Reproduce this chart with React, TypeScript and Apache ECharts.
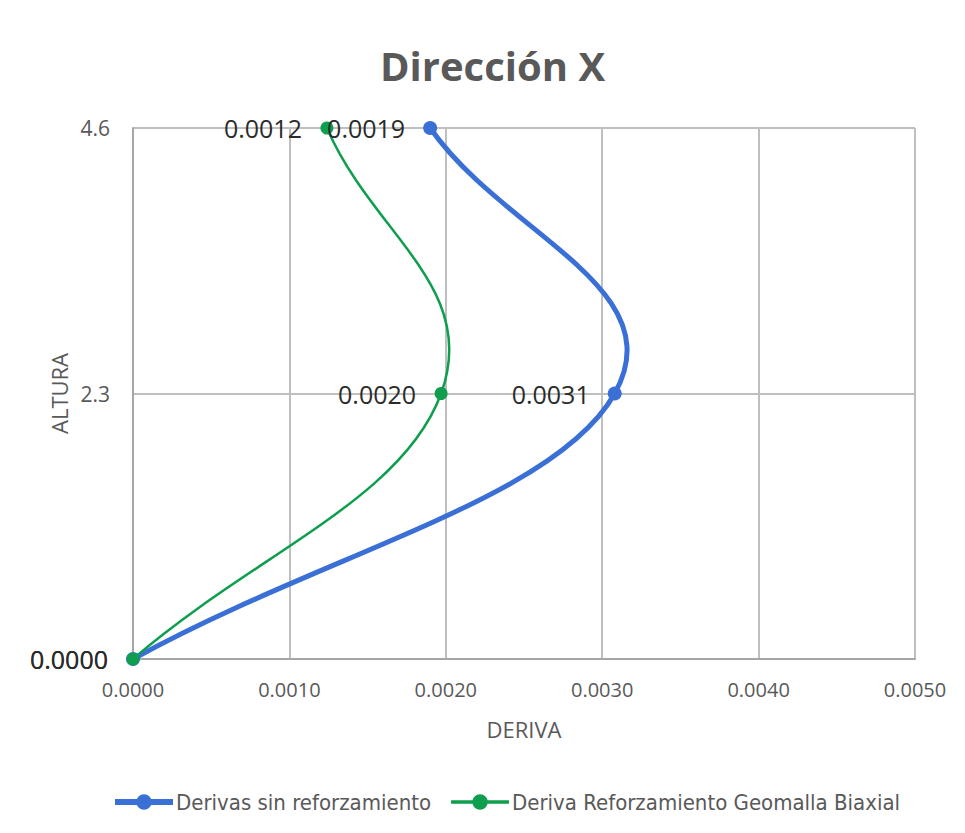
import React, { useEffect, useRef } from "react";
import * as echarts from "echarts";

const titleText = "Dirección X";
const xAxisName = "DERIVA";
const yAxisName = "ALTURA";
const seriesNames = ["Derivas sin reforzamiento", "Deriva Reforzamiento Geomalla Biaxial"];
const alturas = [0, 2.3, 4.6];
const derivasSin = [0, 0.00308, 0.0019];
const derivasGeo = [0, 0.00197, 0.00124];
const colors = ["#3A6FD6", "#0E9E4E"];

const TENSION = 0.2;

export default function App() {
  const ref = useRef<HTMLDivElement>(null);
  useEffect(() => {
    document.body.style.margin = "0";
    const chart = echarts.init(ref.current!, null, { renderer: "svg" });
    const font = "'Open Sans', 'Noto Sans', sans-serif";
    const narrow = "'Liberation Sans Narrow', 'DejaVu Sans Condensed', 'Open Sans', sans-serif";

    const curve = (id: string, xs: number[], color: string, width: number) => ({
      id,
      type: "custom",
      silent: true,
      z: 2,
      data: xs.map((x, i) => [x, alturas[i]]),
      encode: { x: 0, y: 1 },
      renderItem: (params: any, api: any) => {
        const n = xs.length;
        const i = params.dataIndex;
        if (i >= n - 1) return null;
        const c = (j: number) => {
          if (j < 0) {
            const a = api.coord([xs[0], alturas[0]]);
            const b = api.coord([xs[1], alturas[1]]);
            return [2 * a[0] - b[0], 2 * a[1] - b[1]];
          }
          if (j > n - 1) {
            const a = api.coord([xs[n - 1], alturas[n - 1]]);
            const b = api.coord([xs[n - 2], alturas[n - 2]]);
            return [2 * a[0] - b[0], 2 * a[1] - b[1]];
          }
          return api.coord([xs[j], alturas[j]]);
        };
        const p0 = c(i - 1), p1 = c(i), p2 = c(i + 1), p3 = c(i + 2);
        return {
          type: "bezierCurve",
          shape: {
            x1: p1[0], y1: p1[1],
            x2: p2[0], y2: p2[1],
            cpx1: p1[0] + TENSION * (p2[0] - p0[0]),
            cpy1: p1[1] + TENSION * (p2[1] - p0[1]),
            cpx2: p2[0] - TENSION * (p3[0] - p1[0]),
            cpy2: p2[1] - TENSION * (p3[1] - p1[1]),
          },
          style: { stroke: color, lineWidth: width, fill: null, lineCap: "round" },
        };
      },
    });

    const points = (name: string, xs: number[], color: string, size: number) => ({
      name,
      type: "line",
      z: 3,
      data: xs.map((x, i) => [x, alturas[i]]),
      symbol: "circle",
      symbolSize: size,
      itemStyle: { color },
      lineStyle: { color, width: 0, opacity: 0 },
      label: {
        show: true,
        position: "left",
        distance: 25 - size / 2,
        fontFamily: font,
        fontSize: 25,
        color: "#2b2b2b",
        formatter: (p: any) => Number(p.value[0]).toFixed(4),
      },
    });

    const iconThick = "path://M0,5H60V11H0Z M38,8A8,8,0,1,1,22,8A8,8,0,1,1,38,8Z";
    const iconThin = "path://M0,6.2H60V9.8H0Z M38,8A8,8,0,1,1,22,8A8,8,0,1,1,38,8Z";

    chart.setOption({
      animation: false,
      title: {
        text: titleText,
        left: 375,
        top: 40,
        textStyle: { fontFamily: font, fontSize: 40, fontWeight: "bold", color: "#595959" },
      },
      grid: { left: 133, right: 50, top: 128, bottom: 174 },
      legend: {
        top: 786,
        left: 110,
        itemWidth: 58,
        itemHeight: 16,
        itemGap: 20,
        textStyle: { fontFamily: narrow, fontSize: 22, color: "#595959", padding: [0, 0, 0, -2] },
        data: [
          { name: seriesNames[0], icon: iconThick },
          { name: seriesNames[1], icon: iconThin },
        ],
      },
      xAxis: {
        type: "value",
        min: 0,
        max: 0.005,
        interval: 0.001,
        name: xAxisName,
        nameLocation: "middle",
        nameGap: 59,
        nameTextStyle: { fontFamily: font, fontSize: 22, color: "#595959" },
        axisLine: { show: true, lineStyle: { color: "#A6A6A6", width: 2 } },
        axisTick: { show: false },
        axisLabel: {
          margin: 20,
          fontFamily: font,
          fontSize: 20,
          color: "#595959",
          formatter: (v: number) => v.toFixed(4),
        },
        splitLine: { show: true, lineStyle: { color: "#BFBFBF", width: 2 } },
      },
      yAxis: {
        type: "value",
        min: 0,
        max: 4.6,
        interval: 2.3,
        name: yAxisName,
        nameLocation: "middle",
        nameGap: 42,
        nameRotate: 90,
        nameTextStyle: { fontFamily: font, fontSize: 22, color: "#595959" },
        axisLine: { show: true, lineStyle: { color: "#A6A6A6", width: 2 } },
        axisTick: { show: false },
        axisLabel: {
          margin: 23,
          fontFamily: font,
          fontSize: 21,
          color: "#595959",
          formatter: (v: number) => (v === 0 ? "" : v.toFixed(1)),
        },
        splitLine: { show: true, lineStyle: { color: "#BFBFBF", width: 2 } },
      },
      series: [
        curve("curveSin", derivasSin, colors[0], 5),
        curve("curveGeo", derivasGeo, colors[1], 2.5),
        points(seriesNames[0], derivasSin, colors[0], 14),
        points(seriesNames[1], derivasGeo, colors[1], 13),
      ],
    });
    return () => chart.dispose();
  }, []);
  return <div ref={ref} style={{ width: 965, height: 833 }} />;
}
